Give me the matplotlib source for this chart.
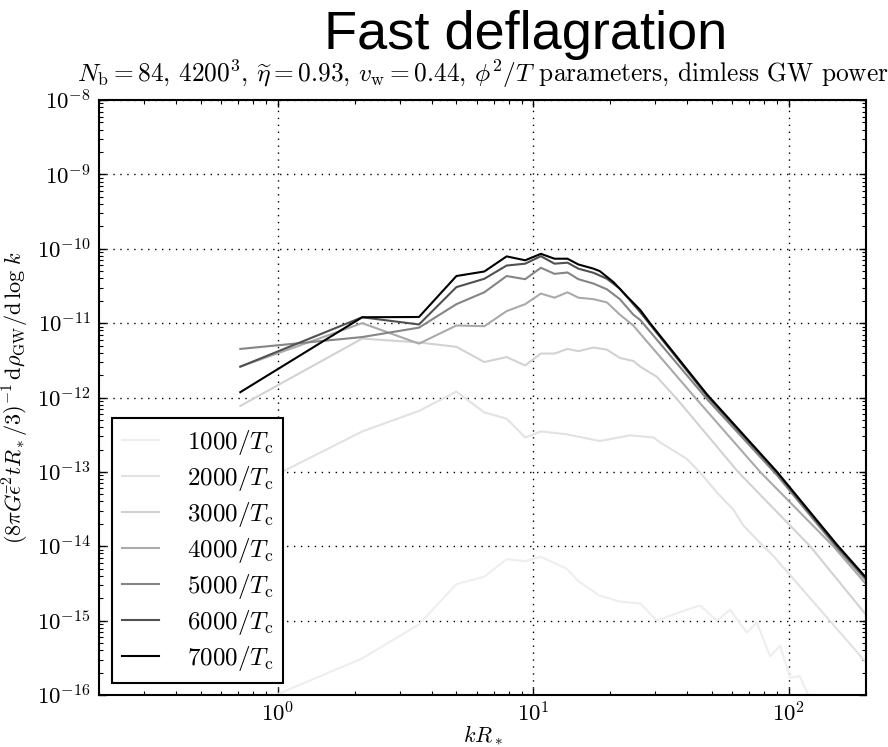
import math

import matplotlib
matplotlib.use("Agg")
import matplotlib.pyplot as plt
from matplotlib.ticker import FuncFormatter, LogLocator, NullFormatter

# spectra, k R_* against dimensionless GW power
k1000 = [0.714, 2.14, 3.57, 5.0, 6.43, 7.86, 9.29, 10.7, 13.5, 15.0, 18.0, 21.8, 26.2, 30.4,
         39.8, 44.9, 52.2, 58.8, 68.4, 74.8, 84.4, 92.3, 101, 110, 119, 132]
p1000 = [6.3e-17, 3.1e-16, 8.9e-16, 3.1e-15, 3.9e-15, 6.7e-15, 6.3e-15, 7.2e-15, 5.0e-15, 3.4e-15,
         2.2e-15, 1.8e-15, 1.7e-15, 1.0e-15, 1.4e-15, 1.6e-15, 1.0e-15, 1.4e-15, 6.9e-16, 9.4e-16,
         3.3e-16, 4.6e-16, 1.7e-16, 1.8e-16, 1.0e-16, 4.7e-17]

k2000 = [0.714, 2.14, 3.57, 5.0, 6.43, 7.86, 9.29, 10.7, 13.5, 18.2, 23.9, 29.5, 31.3, 39.8,
         44.9, 52.2, 60.6, 66.3, 79.4, 86.9, 200]
p2000 = [5.2e-14, 3.5e-13, 6.6e-13, 1.2e-12, 6.3e-13, 5.2e-13, 2.9e-13, 3.5e-13, 3.2e-13, 2.6e-13,
         3.1e-13, 2.9e-13, 2.5e-13, 1.5e-13, 9.8e-14, 5.3e-14, 3.1e-14, 1.9e-14, 1.0e-14, 7.4e-15,
         2.75e-16]

k3000 = [0.714, 2.14, 3.57, 5.0, 6.43, 7.86, 9.29, 10.7, 12.1, 13.6, 15.0, 17.2, 19.4, 21.8,
         24.6, 26.2, 30.4, 34.3, 37.5, 63.2, 121, 200]
p3000 = [7.7e-13, 6.2e-12, 5.5e-12, 4.8e-12, 3.0e-12, 3.5e-12, 2.7e-12, 3.9e-12, 3.9e-12, 4.5e-12,
         4.2e-12, 4.7e-12, 4.4e-12, 3.4e-12, 3.1e-12, 2.6e-12, 1.9e-12, 1.2e-12, 8.5e-13, 1.0e-13,
         1.0e-14, 1.2e-15]

k4000 = [0.714, 2.14, 3.57, 5.0, 6.43, 7.86, 9.29, 10.7, 12.1, 13.6, 15.0, 17.2, 19.4, 21.8,
         24.6, 26.2, 42.9, 77.1, 149, 200]
p4000 = [2.6e-12, 1.0e-11, 5.3e-12, 9.3e-12, 9.1e-12, 1.45e-11, 1.8e-11, 2.5e-11, 2.2e-11, 2.6e-11,
         2.2e-11, 2.1e-11, 1.9e-11, 1.3e-11, 9.3e-12, 7.2e-12, 1.0e-12, 1.0e-13, 1.0e-14, 3.1e-15]

k5000 = [0.714, 2.14, 3.57, 5.0, 6.43, 7.86, 9.29, 10.7, 12.1, 13.6, 15.0, 17.2, 19.4, 21.8,
         24.6, 26.2, 47.8, 89.8, 154, 200]
p5000 = [4.5e-12, 6.5e-12, 8.7e-12, 1.8e-11, 2.6e-11, 4.3e-11, 3.9e-11, 5.55e-11, 4.6e-11, 4.8e-11,
         3.9e-11, 3.4e-11, 2.85e-11, 2.1e-11, 1.3e-11, 1.1e-11, 9.5e-13, 9.0e-14, 9.5e-15, 3.5e-15]

k6000 = [0.714, 2.14, 3.57, 5.0, 6.43, 7.86, 9.29, 10.7, 12.1, 13.6, 15.0, 17.2, 19.4, 21.8,
         24.6, 26.2, 47.8, 89.8, 154, 200]
p6000 = [2.6e-12, 1.2e-11, 9.6e-12, 3.05e-11, 3.95e-11, 5.95e-11, 6.3e-11, 7.95e-11, 6.3e-11, 6.5e-11,
         5.4e-11, 4.75e-11, 3.95e-11, 2.9e-11, 1.8e-11, 1.4e-11, 1.05e-12, 9.7e-14, 1.0e-14, 3.7e-15]

k7000 = [0.714, 2.14, 3.57, 5.0, 6.43, 7.86, 9.29, 10.7, 12.1, 13.6, 15.0, 17.2, 18.2, 20.6,
         23.2, 26.2, 28.6, 47.8, 89.8, 154, 200]
p7000 = [1.18e-12, 1.2e-11, 1.21e-11, 4.3e-11, 4.95e-11, 7.9e-11, 7.0e-11, 8.55e-11, 7.35e-11, 7.35e-11,
         6.15e-11, 5.4e-11, 5.0e-11, 3.55e-11, 2.3e-11, 1.5e-11, 1.0e-11, 1.1e-12, 1.0e-13, 1.05e-14,
         3.8e-15]

times = [1000, 2000, 3000, 4000, 5000, 6000, 7000]
series = [(k1000, p1000), (k2000, p2000), (k3000, p3000), (k4000, p4000),
          (k5000, p5000), (k6000, p6000), (k7000, p7000)]
GREYS = ["#eeeeee", "#e2e2e2", "#d2d2d2", "#aaaaaa", "#858585", "#505050", "#000000"]
X_TICKS = [1, 10, 100]
Y_TICKS = [1e-16, 1e-15, 1e-14, 1e-13, 1e-12, 1e-11, 1e-10, 1e-9, 1e-8]

plt.rcParams.update({
    "mathtext.fontset": "cm",
    "axes.unicode_minus": False,
    "font.size": 16,
})

fig = plt.figure(figsize=(8.88, 7.47), dpi=100)
ax = fig.add_axes([0.1115, 0.0696, 0.8637, 0.7965])

for t, (k, p), c in zip(times, series, GREYS):
    ax.plot(k, p, color=c, lw=1.5, label=rf"${t}/T_{{\rm c}}$")

ax.set_xscale("log")
ax.set_yscale("log")
ax.set_xlim(0.2, 200)
ax.set_ylim(1e-16, 1e-8)

ax.set_xticks(X_TICKS)
ax.set_yticks(Y_TICKS)
ax.yaxis.set_minor_locator(LogLocator(base=10, subs=range(2, 10), numticks=20))
ax.yaxis.set_minor_formatter(NullFormatter())
ax.xaxis.set_minor_formatter(NullFormatter())
decade = FuncFormatter(lambda v, pos: rf"$10^{{{int(round(math.log10(v)))}}}$")
ax.xaxis.set_major_formatter(decade)
ax.yaxis.set_major_formatter(decade)

ax.tick_params(which="both", direction="in", top=True, right=True, labelsize=16.5)
ax.tick_params(axis="x", pad=5)
ax.tick_params(axis="y", pad=6)
ax.tick_params(which="major", length=5, width=1)
ax.tick_params(which="minor", length=3, width=0.8)
for s in ax.spines.values():
    s.set_linewidth(1.5)
ax.grid(True, which="major", color="k", ls=(0, (1, 4)), lw=1.0)

ax.set_xlabel(r"$kR_*$", fontsize=16, labelpad=-2)
ax.set_ylabel(r"$(8\pi G\bar{\epsilon}^2 tR_*/3)^{-1}\,\mathrm{d}\rho_{\rm GW}/\mathrm{d}\,\log\, k$",
              fontsize=16, labelpad=4)

leg = ax.legend(loc="lower left", fontsize=18, handlelength=1.5, handletextpad=1.1,
                labelspacing=0.28, borderpad=0.4, borderaxespad=0.5, fancybox=False)
leg.get_frame().set_edgecolor("k")
leg.get_frame().set_linewidth(1.5)
leg.get_frame().set_alpha(1)

fig.text(0.5923, 0.934, "Fast deflagration", ha="center", va="baseline",
         fontsize=39, family="Liberation Sans")
fig.text(0.5434, 0.8900,
         r"$N_{\rm b}=84$, $4200^3$, $\widetilde{\eta}=0.93$, $v_{\rm w}=0.44$, $\phi^2/T$ parameters, dimless GW power",
         ha="center", va="baseline", fontsize=18.3, family="cmr10")

fig.savefig("out.png", dpi=100)
